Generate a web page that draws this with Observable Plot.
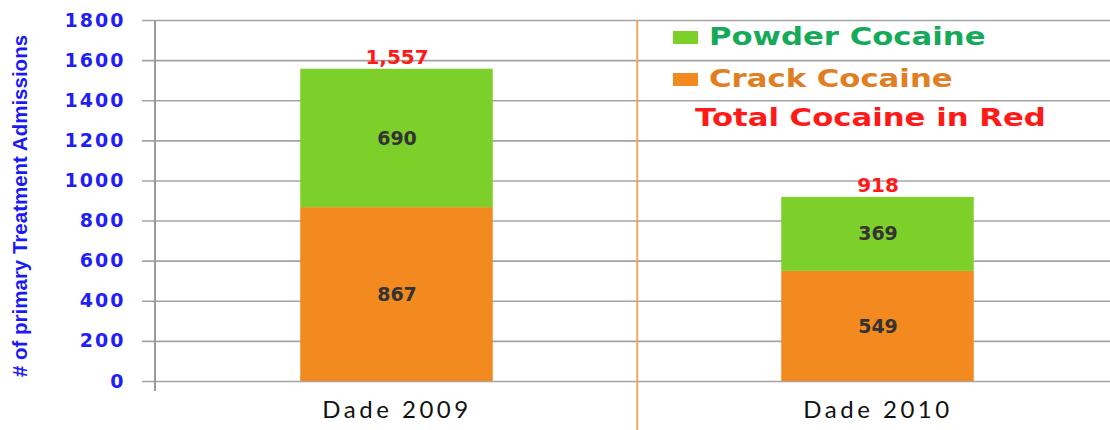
<!DOCTYPE html>
<html><head><meta charset="utf-8">
<script src="https://cdn.jsdelivr.net/npm/d3@7"></script>
<script src="https://cdn.jsdelivr.net/npm/@observablehq/plot@0.6"></script>
<style>
body{margin:0;background:#fff;}
#wrap{position:relative;width:1110px;height:430px;overflow:hidden;background:#fff;}
#wrap svg{position:absolute;left:0;top:0;}
.chart [aria-label^="y-axis"] text{fill:#1f1ff5;font-family:"DejaVu Sans";font-weight:bold;font-size:19px;letter-spacing:2px;}
.chart [aria-label^="x-axis"] text{fill:#111;font-family:Lato,"Open Sans";font-size:24px;letter-spacing:3.5px;}
.chart [aria-label="segment-labels"] text{letter-spacing:3.5px;}
.chart [aria-label="total-labels"] text{letter-spacing:3.5px;}
.leg{position:absolute;font-family:"DejaVu Sans";font-weight:bold;font-size:24px;line-height:24px;white-space:nowrap;transform:scaleX(1.28);transform-origin:0 0;}
.sw{position:absolute;width:25px;height:13px;}
</style>
</head><body>
<div id="wrap"></div>
<script>
const categories = ["Dade 2009", "Dade 2010"];
const seriesNames = ["Crack Cocaine", "Powder Cocaine"];
const crack = [867, 549];
const powder = [690, 369];
const totals = [1557, 918];
const yTicks = [0, 200, 400, 600, 800, 1000, 1200, 1400, 1600, 1800];
const barColors = ["#f28a20", "#7dcf2a"];
const legendTextColors = ["#e07e22", "#14aa5a"];
const yTitle = "# of primary Treatment Admissions";
const totalNote = "Total Cocaine in Red";

const rows = categories.flatMap((c, i) => [
  {category: c, series: seriesNames[0], value: crack[i]},
  {category: c, series: seriesNames[1], value: powder[i]}
]);
const totalRows = categories.map((c, i) => ({category: c, total: totals[i]}));

const chart = Plot.plot({
  width: 1110, height: 430,
  marginLeft: 155, marginRight: 0, marginTop: 20, marginBottom: 49,
  className: "chart",
  style: {background: "#fff"},
  x: {domain: categories, range: [155, 1118], padding: 0, tickSize: 0, tickPadding: 19, label: null},
  y: {domain: [0, 1800], ticks: yTicks, tickFormat: d => String(d), tickSize: 0, tickPadding: 30, label: null},
  color: {domain: seriesNames, range: barColors},
  marks: [
    Plot.ruleY(yTicks, {stroke: "#a3a3a3", strokeWidth: 1.6, insetLeft: -13}),
    Plot.barY(rows, {x: "category", y: "value", fill: "series", order: seriesNames, insetLeft: 144.25, insetRight: 144.25}),
    Plot.text(rows, Plot.stackY({x: "category", y: "value", z: "series", text: "value", order: seriesNames,
      fill: "#333", fontWeight: "bold", fontSize: 19, fontFamily: "DejaVu Sans", ariaLabel: "segment-labels"})),
    Plot.text(totalRows, {x: "category", y: "total", text: d => d3.format(",")(d.total), lineAnchor: "bottom", dy: -5,
      fill: "#ff1a1a", fontWeight: "bold", fontSize: 20, fontFamily: "DejaVu Sans", ariaLabel: "total-labels"}),
    Plot.ruleX([categories[0]], {x: d => d, dx: -242, stroke: "#9a9a9a", strokeWidth: 2, insetBottom: -10}),
    Plot.ruleX([categories[1]], {x: d => d, dx: -240.75, stroke: "#f4a050", strokeWidth: 1.8, insetBottom: -50}),
    Plot.text([yTitle], {frameAnchor: "left", textAnchor: "middle", rotate: -90, dx: -135, dy: 5, fill: "#1a1af5",
      fontWeight: "bold", fontSize: 20.5, fontFamily: "Liberation Sans, Arial, sans-serif"})
  ]
});
const wrap = document.getElementById("wrap");
wrap.appendChild(chart);

// legend (inside plot area, top right)
const legendItems = [
  {name: seriesNames[1], sw: barColors[1], color: legendTextColors[1], top: 24.5, swTop: 31},
  {name: seriesNames[0], sw: barColors[0], color: legendTextColors[0], top: 66.5, swTop: 73}
];
for (const it of legendItems) {
  const s = document.createElement("div");
  s.className = "sw"; s.style.left = "673px"; s.style.top = it.swTop + "px"; s.style.background = it.sw;
  wrap.appendChild(s);
  const t = document.createElement("div");
  t.className = "leg"; t.style.left = "709px"; t.style.top = it.top + "px"; t.style.color = it.color;
  t.textContent = it.name;
  wrap.appendChild(t);
}
const n = document.createElement("div");
n.className = "leg"; n.style.left = "695px"; n.style.top = "105.5px"; n.style.color = "#ff1a1a";
n.textContent = totalNote;
wrap.appendChild(n);
</script>
</body></html>
